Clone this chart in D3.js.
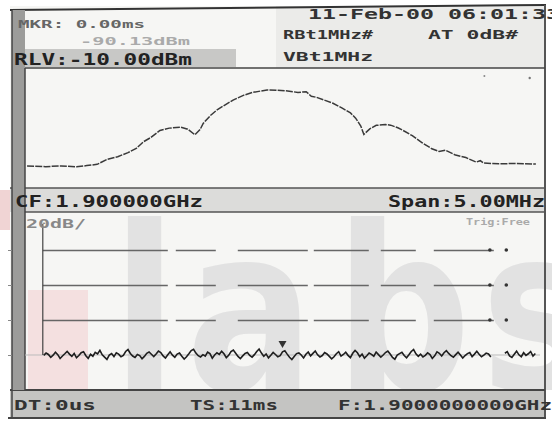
<!DOCTYPE html>
<html>
<head>
<meta charset="utf-8">
<script src="https://cdn.jsdelivr.net/npm/d3@7"></script>
<style>
  body { margin: 0; background: #fff; }
  text { font-family: "DejaVu Sans Mono", monospace; font-weight: bold; }
</style>
</head>
<body>
<div id="screen"></div>
<script>
// spectrum trace (upper window): offset from CF in MHz, level in dBm
let spanOffsets = [-2.48, -2.30, -2.15, -2.00, -1.90, -1.80, -1.70, -1.60, -1.50, -1.42,
    -1.35, -1.28, -1.19, -1.10, -0.99, -0.92, -0.85, -0.80, -0.77, -0.70,
    -0.64, -0.56, -0.48, -0.38, -0.29, -0.15, -0.06, 0.05, 0.15, 0.23,
    0.28, 0.33, 0.42, 0.49, 0.58, 0.66, 0.71, 0.76, 0.79, 0.85,
    0.91, 1.00, 1.05, 1.12, 1.17, 1.26, 1.36, 1.45, 1.52, 1.58,
    1.68, 1.78, 1.88, 1.92, 1.95, 2.10, 2.25, 2.46];
let spanLevels = [-64.9, -65.2, -64.8, -65.3, -64.6, -63.9, -61.0, -59.5, -57.2, -54.8,
    -51.0, -48.6, -44.5, -43.2, -42.6, -43.8, -47.0, -44.0, -40.5, -36.0,
    -33.0, -30.0, -27.2, -24.5, -22.8, -21.4, -21.5, -22.0, -22.8, -22.4,
    -25.0, -25.6, -27.5, -29.0, -31.8, -34.5, -37.5, -42.0, -46.8, -43.5,
    -41.6, -41.2, -41.5, -43.0, -44.5, -47.5, -51.7, -55.0, -56.5, -55.8,
    -58.6, -60.0, -62.6, -61.8, -63.1, -63.6, -63.4, -63.7];

// zero span trace (lower window): one sample every 0.05 ms from 0.4 ms, dBm
let zeroSpanStart = 0.4;
let zeroSpanStep = 0.05;
let zeroSpanLevels = [
    -90.2, -88.9, -89.7, -91.3, -90.1, -88.4, -89.8, -92.0, -90.6, -89.3,
    -87.9, -89.5, -90.8, -89.1, -91.6, -90.3, -88.7, -88.1, -90.4, -91.9,
    -89.6, -90.7, -88.5, -89.4, -87.3, -89.9, -91.2, -92.5, -90.0, -89.2,
    -90.9, -88.8, -89.5, -91.0, -90.2, -88.0, -86.9, -89.1, -90.6, -91.4,
    -89.7, -90.3, -92.1, -90.8, -89.0, -88.3, -89.6, -90.9, -89.4, -87.8,
    -88.6, -90.5, -91.7, -89.9, -88.2, -90.1, -91.3, -89.5, -88.9, -90.7,
    -92.3, -91.0, -89.3, -87.5, -86.8, -88.9, -90.4, -91.1, -89.8, -90.6,
    -88.4, -89.2, -91.8, -90.0, -88.7, -89.6, -87.9, -89.3, -91.5, -90.2,
    -88.1, -87.2, -89.0, -90.8, -92.0, -90.5, -89.1, -88.6, -90.3, -91.2,
    -89.8, -88.0, -86.6, -88.9, -90.7, -89.4, -91.6, -90.1, -88.5, -89.7,
    -91.0, -90.4, -88.2, -87.6, -89.5, -91.3, -92.6, -90.9, -89.2, -88.8,
    -90.0, -91.7, -89.6, -88.3, -90.5, -89.1, -87.7, -89.9, -91.1, -90.3,
    -88.6, -89.4, -90.8, -92.2, -91.0, -89.3, -88.1, -90.6, -89.7, -88.4,
    -90.2, -91.5, -89.0, -87.4, -88.7, -90.9, -89.5, -91.8, -90.4, -88.9,
    -89.6, -90.7, -88.3, -89.8, -91.2, -90.0, -88.6, -87.8, -89.4, -91.4,
    -92.4, -90.1, -89.2, -88.5, -90.3, -91.6, -89.9, -88.0, -86.9, -89.3,
    -90.8, -89.5, -91.1, -90.2, -88.8, -89.7, -91.9, -90.5, -88.2, -89.0,
    -90.6, -88.7, -87.5, -89.1, -90.4, -91.3, -89.8, -88.4, -90.0, -91.7,
    -90.3, -89.2, -88.6, -90.9, -89.5, -87.9, -89.6, -91.0, -90.1, -88.9,
    -89.4, -91.2, null, null, null, null, null, -89.0, -88.1, -90.5,
    -91.4, -89.6, -87.8, -89.9, -91.0, -88.7, -90.2, -89.3, -88.0, -90.6,
    -89.1];

let gridLevels = [-30, -50, -70];
let tickLevels = [-30, -50, -70, -90];
let sweepTime = 11;      // ms
let trigTime = 0.38;     // ms
let markerTime = 5.5;    // ms
let markerLevel = -85;   // dBm
let gridDots = [9.93, 10.28]; // ms, bright points on the grid lines

let svgWidth = 552;
let svgHeight = 424;

let svg = d3.select("#screen")
    .append("svg")
    .attr("width", svgWidth)
    .attr("height", svgHeight);

// scales
let xFreq = d3.scaleLinear().domain([-2.5, 2.5]).range([25, 540]);
let yUp = d3.scaleLinear().domain([-10, -77.4]).range([70, 188]);
let xTime = d3.scaleLinear().domain([0, sweepTime]).range([25, 540]);
let yLow = d3.scaleLinear().domain([-10, -90]).range([215, 355]);

// screen background and bands
svg.append("rect").attr("x", 10).attr("y", 6).attr("width", 536).attr("height", 413).attr("fill", "#f6f6f4");
svg.append("rect").attr("x", 276).attr("y", 6).attr("width", 270).attr("height", 62).attr("fill", "#ebebe9");
svg.append("rect").attr("x", 12).attr("y", 49).attr("width", 224).attr("height", 18).attr("fill", "#c8c8c6");
svg.append("rect").attr("x", 10).attr("y", 188).attr("width", 536).attr("height", 24).attr("fill", "#dcdcda");
svg.append("rect").attr("x", 10).attr("y", 390).attr("width", 536).attr("height", 28).attr("fill", "#c4c4c2");

// watermark, kept inside the lower window
svg.append("clipPath").attr("id", "lowWin")
    .append("rect").attr("x", 25).attr("y", 214).attr("width", 530).attr("height", 176);
svg.append("rect").attr("x", 28).attr("y", 290).attr("width", 60).attr("height", 100).attr("fill", "#f4e0e0");
svg.append("rect").attr("x", 0).attr("y", 190).attr("width", 10).attr("height", 40).attr("fill", "#f0d4d4");
let wm = svg.append("g").attr("clip-path", "url(#lowWin)")
    .append("g").attr("transform", "translate(0,390) scale(1,1.2)");
[["l", 112], ["a", 186], ["b", 335], ["s", 481]].forEach(function(d) {
    wm.append("text")
        .attr("x", d[1])
        .attr("y", 0)
        .style("font-family", "DejaVu Sans")
        .style("font-size", "190px")
        .attr("fill", "#e2e2e2")
        .text(d[0]);
});

// frame lines (the scan is slightly skewed, top edge rises to the right)
svg.append("line").attr("x1", 10).attr("x2", 546).attr("y1", 10).attr("y2", 5).attr("stroke", "#333").attr("stroke-width", 2);
svg.append("line").attr("x1", 545).attr("x2", 545).attr("y1", 5).attr("y2", 419).attr("stroke", "#555").attr("stroke-width", 2);
svg.append("line").attr("x1", 25).attr("x2", 545).attr("y1", 68).attr("y2", 68).attr("stroke", "#444").attr("stroke-width", 1.5);
svg.append("line").attr("x1", 10).attr("x2", 545).attr("y1", 188).attr("y2", 188).attr("stroke", "#555").attr("stroke-width", 1.5);
svg.append("line").attr("x1", 25).attr("x2", 545).attr("y1", 212).attr("y2", 212).attr("stroke", "#555").attr("stroke-width", 1.5);
svg.append("line").attr("x1", 10).attr("x2", 545).attr("y1", 390).attr("y2", 390).attr("stroke", "#444").attr("stroke-width", 2);
svg.append("line").attr("x1", 8).attr("x2", 546).attr("y1", 418).attr("y2", 418).attr("stroke", "#444").attr("stroke-width", 2);

// thick left bar
svg.append("rect").attr("x", 12).attr("y", 10).attr("width", 13).attr("height", 380).attr("fill", "#9c9c9a");
svg.append("line").attr("x1", 12).attr("x2", 12).attr("y1", 10).attr("y2", 419).attr("stroke", "#444").attr("stroke-width", 1.5);
svg.append("line").attr("x1", 25).attr("x2", 25).attr("y1", 68).attr("y2", 390).attr("stroke", "#444").attr("stroke-width", 1.5);

// lower window grid
let gridAxis = d3.axisRight(yLow)
    .tickValues(gridLevels)
    .tickSize(xTime(10.9) - xTime(trigTime))
    .tickFormat("");
let gridG = svg.append("g")
    .attr("transform", `translate(${xTime(trigTime)},0)`)
    .call(gridAxis);
gridG.select(".domain").remove();
gridG.selectAll(".tick line")
    .attr("stroke", "#666")
    .attr("stroke-width", 1.3)
    .attr("stroke-dasharray", "125,8,40,22,70,6,55,12,35,18,60");

let edgeAxis = d3.axisLeft(yLow).tickValues(tickLevels).tickSize(4).tickFormat("");
let edgeG = svg.append("g").attr("transform", "translate(12,0)").call(edgeAxis);
edgeG.select(".domain").remove();
edgeG.selectAll(".tick line").attr("stroke", "#888");

svg.append("line")
    .attr("x1", xTime(0)).attr("x2", xTime(sweepTime))
    .attr("y1", yLow(-90)).attr("y2", yLow(-90))
    .attr("stroke", "#bbb").attr("stroke-width", 1);

gridLevels.forEach(function(lv) {
    svg.selectAll(null)
        .data(gridDots)
        .enter()
        .append("circle")
        .attr("cx", d => xTime(d))
        .attr("cy", yLow(lv))
        .attr("r", 1.8)
        .attr("fill", "#333");
});

// trigger line
svg.append("line")
    .attr("x1", xTime(trigTime)).attr("x2", xTime(trigTime))
    .attr("y1", 224).attr("y2", yLow(-90))
    .attr("stroke", "#444").attr("stroke-width", 1.2);

// upper trace
let spanData = spanOffsets.map((d, i) => ({ f: d, v: spanLevels[i] }));
let upLine = d3.line()
    .x(d => xFreq(d.f))
    .y(d => yUp(d.v));
svg.append("path")
    .datum(spanData)
    .attr("d", upLine)
    .attr("fill", "none")
    .attr("stroke", "#3a3a3a")
    .attr("stroke-width", 1.5)
    .attr("stroke-dasharray", "7,1.2");

// lower trace
let zeroData = zeroSpanLevels.map((d, i) => ({ t: zeroSpanStart + i * zeroSpanStep, v: d }));
let lowLine = d3.line()
    .defined(d => d.v !== null)
    .x(d => xTime(d.t))
    .y(d => yLow(d.v));
svg.append("path")
    .datum(zeroData)
    .attr("d", lowLine)
    .attr("fill", "none")
    .attr("stroke", "#1e1e1e")
    .attr("stroke-width", 1.6);

// marker
svg.append("path")
    .attr("d", d3.symbol().type(d3.symbolTriangle).size(28))
    .attr("transform", `translate(${xTime(markerTime)},${yLow(markerLevel) - 3}) rotate(180)`)
    .attr("fill", "#333");

// faint dots top right of upper window
svg.append("circle").attr("cx", xFreq(1.96)).attr("cy", 76).attr("r", 1).attr("fill", "#888");
svg.append("circle").attr("cx", xFreq(2.40)).attr("cy", 78).attr("r", 1.2).attr("fill", "#777");

// texts
let labels = [
    ["MKR: 0.00ms", 18, 28, 127, 11, "#666"],
    ["-90.13dBm", 80, 45, 110, 10, "#aaa"],
    ["RLV:-10.00dBm", 14, 65, 178, 15, "#222"],
    ["11-Feb-00 06:01:33", 308, 19, 252, 14, "#333"],
    ["RBt1MHz#", 283, 39, 90, 13, "#333"],
    ["AT 0dB#", 428, 39, 90, 13, "#333"],
    ["VBt1MHz", 283, 61, 90, 13, "#333"],
    ["CF:1.900000GHz", 15, 207, 188, 15, "#222"],
    ["Span:5.00MHz", 388, 207, 157, 15, "#222"],
    ["20dB/", 26, 228, 60, 12, "#888"],
    ["Trig:Free", 466, 225, 64, 9, "#aaa"],
    ["DT:0us", 14, 410, 82, 14, "#333"],
    ["TS:11ms", 190, 410, 88, 14, "#333"],
    ["F:1.9000000000GHz", 338, 410, 214, 14, "#333"]
];
svg.selectAll(".lbl")
    .data(labels)
    .enter()
    .append("text")
    .attr("class", "lbl")
    .attr("x", d => d[1])
    .attr("y", d => d[2])
    .attr("textLength", d => d[3])
    .attr("lengthAdjust", "spacingAndGlyphs")
    .style("font-size", d => d[4] + "px")
    .attr("fill", d => d[5])
    .text(d => d[0]);
</script>
</body>
</html>
